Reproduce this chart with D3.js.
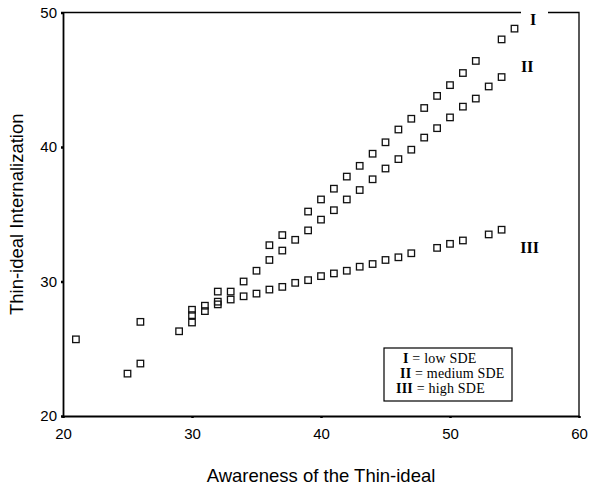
<!DOCTYPE html>
<html>
<head>
<meta charset="utf-8">
<script src="https://cdn.jsdelivr.net/npm/d3@7"></script>
<style>
  body { margin: 0; background: #fff; }
  svg { display: block; }
</style>
</head>
<body>
<div class="chart"></div>
<script>
// axis ticks
const xTicks = [20, 30, 40, 50, 60]
const yTicks = [20, 30, 40, 50]

// series I = low SDE
const lowX = [21, 26, 30, 31, 32, 34, 35, 36, 37, 39, 40, 41, 42, 43, 44, 45, 46, 47, 48, 49, 50, 51, 52, 54, 55]
const lowY = [25.7, 27.0, 27.9, 28.2, 29.25, 30.0, 30.8, 32.7, 33.45, 35.2, 36.1, 36.9, 37.8, 38.6, 39.5, 40.35, 41.3, 42.1, 42.9, 43.8, 44.6, 45.5, 46.4, 48.0, 48.8]
// series II = medium SDE
const medX = [25, 26, 29, 30, 31, 32, 33, 36, 37, 38, 39, 40, 41, 42, 43, 44, 45, 46, 47, 48, 49, 50, 51, 52, 53, 54]
const medY = [23.15, 23.9, 26.3, 27.5, 27.8, 28.5, 29.25, 31.6, 32.3, 33.1, 33.8, 34.6, 35.3, 36.1, 36.8, 37.6, 38.4, 39.1, 39.8, 40.7, 41.4, 42.2, 43.0, 43.6, 44.5, 45.2]
// series III = high SDE
const highX = [30, 32, 33, 34, 35, 36, 37, 38, 39, 40, 41, 42, 43, 44, 45, 46, 47, 49, 50, 51, 53, 54]
const highY = [26.95, 28.3, 28.66, 28.9, 29.1, 29.4, 29.6, 29.9, 30.1, 30.4, 30.6, 30.8, 31.1, 31.3, 31.6, 31.8, 32.1, 32.5, 32.8, 33.05, 33.5, 33.85]

const seriesLabels = ['I', 'II', 'III']
const legendRows = [['I', 'low SDE'], ['II', 'medium SDE'], ['III', 'high SDE']]

const width = 591
const height = 489

const svg = d3.select('.chart').append('svg')
    .attr('width', width)
    .attr('height', height)

const x = d3.scaleLinear().domain([20, 60]).range([63, 579])
const y = d3.scaleLinear().domain([20, 50]).range([416, 12.5])

// frame: top line has a gap where label I sits
svg.append('path')
    .attr('d', `M${x(20)},${y(50)}H521M548,${y(50)}H${x(60)}V${y(20)}`)
    .attr('fill', 'none')
    .attr('stroke', '#000')
    .attr('stroke-width', 1.3)

// axes
const xAxis = d3.axisBottom(x).tickValues(xTicks).tickSize(3).tickSizeOuter(0)
const yAxis = d3.axisLeft(y).tickValues(yTicks).tickSize(3).tickSizeOuter(0)

const gx = svg.append('g').attr('transform', `translate(0,${y(20)})`).call(xAxis)
const gy = svg.append('g').attr('transform', `translate(${x(20)},0)`).call(yAxis)

svg.selectAll('.domain').attr('stroke', '#000').attr('stroke-width', 1.8)
svg.selectAll('.tick line').attr('stroke', '#000').attr('stroke-width', 2.5)
gx.selectAll('.tick line').attr('y2', 2)
gy.selectAll('.tick line').attr('x2', -2)
svg.selectAll('.tick text')
    .attr('font-family', 'Liberation Sans, Arial, sans-serif')
    .attr('font-size', 15)
    .attr('fill', '#000')
gx.selectAll('.tick text').attr('dy', '1.15em')
gy.selectAll('.tick text').attr('x', -6)

// axis titles
svg.append('text')
    .attr('x', 321)
    .attr('y', 482)
    .attr('text-anchor', 'middle')
    .attr('font-family', 'Liberation Sans, Arial, sans-serif')
    .attr('font-size', 18.5)
    .text('Awareness of the Thin-ideal')

svg.append('text')
    .attr('transform', `translate(23,${(y(20) + y(50)) / 2}) rotate(-90)`)
    .attr('text-anchor', 'middle')
    .attr('font-family', 'Liberation Sans, Arial, sans-serif')
    .attr('font-size', 18.5)
    .text('Thin-ideal Internalization')

// points
const allSeries = [[lowX, lowY], [medX, medY], [highX, highY]]
const s = 6.5
allSeries.forEach(([xs, ys]) => {
    svg.append('g').selectAll('rect')
        .data(xs.map((v, i) => [v, ys[i]]))
        .enter()
        .append('rect')
        .attr('x', d => x(d[0]) - s / 2)
        .attr('y', d => y(d[1]) - s / 2)
        .attr('width', s)
        .attr('height', s)
        .attr('fill', 'none')
        .attr('stroke', '#111')
        .attr('stroke-width', 1.3)
})

// series labels at the end of each run
const labelPos = [[56.2, 49.1], [55.5, 45.55], [55.45, 32.15]]
svg.append('g').selectAll('text')
    .data(seriesLabels)
    .enter()
    .append('text')
    .attr('x', (d, i) => x(labelPos[i][0]))
    .attr('y', (d, i) => y(labelPos[i][1]))
    .attr('font-family', 'Liberation Serif, Times New Roman, serif')
    .attr('font-weight', 'bold')
    .attr('font-size', 16)
    .text(d => d)

// legend
const lg = svg.append('g').attr('transform', 'translate(384,348)')
lg.append('rect')
    .attr('width', 128)
    .attr('height', 53)
    .attr('fill', '#fff')
    .attr('stroke', '#000')
    .attr('stroke-width', 1.2)
const rowIndent = [19, 16, 12]
legendRows.forEach((r, i) => {
    const t = lg.append('text')
        .attr('x', rowIndent[i])
        .attr('y', 15 + i * 15)
        .attr('font-family', 'Liberation Serif, Times New Roman, serif')
        .attr('font-size', 14)
        .attr('letter-spacing', 0.2)
    t.append('tspan').attr('font-weight', 'bold').text(r[0])
    t.append('tspan').text(' = ' + r[1])
})
</script>
</body>
</html>
